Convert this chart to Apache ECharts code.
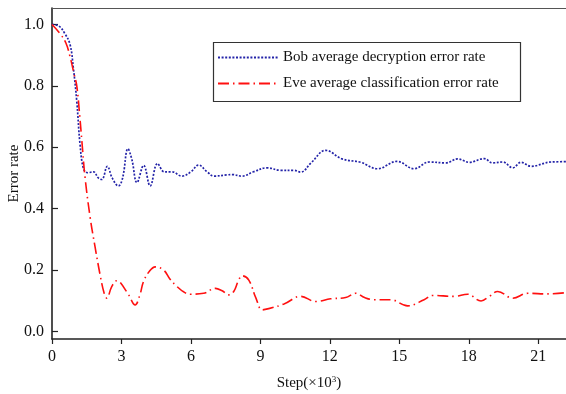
<!DOCTYPE html>
<html>
<head>
<meta charset="utf-8">
<script src="https://cdn.jsdelivr.net/npm/echarts@6/dist/echarts.min.js"></script>
<style>
html,body{margin:0;padding:0;background:#fff;}
#c{width:566px;height:394px;}
</style>
</head>
<body>
<div id="c"></div>
<script>
// Step (x10^3) and error rate pairs
const bobSeriesName = 'Bob average decryption error rate';
const eveSeriesName = 'Eve average classification error rate';
const yTickValues = [0, 0.2, 0.4, 0.6, 0.8, 1.0];
const xTickInterval = 3;

const bobData = [
  [0,1.0],[0.3,0.995],[0.56,0.97],[0.78,0.935],[0.92,0.86],[1.07,0.75],[1.21,0.61],
  [1.36,0.53],[1.53,0.517],[1.79,0.52],[2.0,0.5],[2.15,0.495],[2.39,0.538],[2.6,0.5],
  [2.87,0.474],[3.05,0.5],[3.28,0.595],[3.45,0.56],[3.67,0.485],[3.96,0.541],[4.24,0.474],
  [4.56,0.547],[4.85,0.52],[5.18,0.52],[5.61,0.506],[6.0,0.52],[6.33,0.542],[6.7,0.52],
  [7.0,0.506],[7.56,0.51],[7.78,0.511],[8.21,0.506],[8.7,0.52],[9.29,0.533],[9.87,0.525],
  [10.45,0.525],[10.74,0.519],[11.2,0.55],[11.82,0.59],[12.53,0.562],[13.33,0.551],
  [14.06,0.53],[14.9,0.554],[15.64,0.53],[16.29,0.552],[17.01,0.549],[17.52,0.562],
  [18.02,0.551],[18.67,0.563],[19.03,0.549],[19.47,0.552],[19.9,0.533],[20.26,0.551],
  [20.69,0.538],[21.56,0.552],[22.2,0.553]
];

const eveData = [
  [0,1.0],[0.35,0.97],[0.6,0.94],[0.78,0.895],[0.95,0.84],[1.07,0.8],[1.2,0.7],[1.29,0.62],
  [1.43,0.5],[1.65,0.37],[1.86,0.275],[2.08,0.183],[2.25,0.125],[2.37,0.108],[2.58,0.146],
  [2.8,0.165],[2.94,0.16],[3.3,0.12],[3.59,0.086],[3.8,0.12],[3.95,0.162],[4.2,0.195],
  [4.46,0.21],[4.82,0.2],[5.1,0.17],[5.4,0.146],[5.7,0.128],[5.97,0.121],[6.55,0.124],
  [7.06,0.14],[7.35,0.132],[7.64,0.119],[7.85,0.13],[8.05,0.165],[8.21,0.181],[8.5,0.167],
  [8.8,0.11],[9.08,0.07],[9.36,0.074],[10.02,0.089],[10.74,0.114],[11.39,0.097],[12.03,0.106],
  [12.68,0.11],[13.12,0.124],[13.5,0.11],[13.91,0.103],[14.63,0.103],[15.36,0.083],
  [16.07,0.103],[16.43,0.117],[17.37,0.114],[17.95,0.121],[18.53,0.099],[18.89,0.114],
  [19.25,0.13],[19.9,0.108],[20.55,0.124],[21.41,0.122],[22.2,0.126]
];

const FONT = '"Liberation Serif", "Times New Roman", serif';
const AXIS_COLOR = '#222';

const chart = echarts.init(document.getElementById('c'), null, {renderer: 'canvas'});
chart.setOption({
  animation: false,
  backgroundColor: '#fff',
  grid: {left: 52, right: 0, top: 8, bottom: 55, containLabel: false, outerBoundsMode: 'none'},
  legend: {
    orient: 'vertical',
    left: 217, top: 50,
    itemWidth: 60, itemHeight: 14, itemGap: 11,
    padding: 0,
    itemStyle: {opacity: 0},
    textStyle: {fontFamily: FONT, fontSize: 15, color: '#111'},
    data: [bobSeriesName, eveSeriesName]
  },
  graphic: [{
    type: 'rect', left: 211, top: 40,
    shape: {width: 307, height: 59},
    style: {fill: 'none', stroke: '#333', lineWidth: 1.2},
    z: 100
  }],
  xAxis: [{
    type: 'value', min: 0, max: 22.2, interval: xTickInterval,
    name: 'Step(×10{sup|3})',
    nameLocation: 'middle', nameGap: 36, nameMoveOverlap: false,
    nameTextStyle: {fontFamily: FONT, fontSize: 15, color: '#111',
      rich: {sup: {fontFamily: FONT, fontSize: 9, verticalAlign: 'top', padding: [0,0,8,0], color: '#111'}}},
    axisLine: {show: true, onZero: false, lineStyle: {color: AXIS_COLOR, width: 1.6}},
    axisTick: {show: true, inside: false, length: 5, lineStyle: {color: AXIS_COLOR, width: 1.2}},
    axisLabel: {fontFamily: FONT, fontSize: 16, color: '#111', margin: 10, showMaxLabel: false},
    splitLine: {show: false}
  }, {
    type: 'value', position: 'top', min: 0, max: 22.2,
    axisLine: {show: true, onZero: false, lineStyle: {color: '#555', width: 1.2}},
    axisTick: {show: false}, axisLabel: {show: false}, splitLine: {show: false}
  }],
  yAxis: {
    type: 'value', min: -0.025, max: 1.054,
    name: 'Error rate',
    nameLocation: 'middle', nameGap: 30, nameRotate: 90, nameMoveOverlap: false,
    nameTextStyle: {fontFamily: FONT, fontSize: 15, color: '#111'},
    axisLine: {show: true, onZero: false, lineStyle: {color: AXIS_COLOR, width: 1.6}},
    axisTick: {show: true, inside: true, length: 6, customValues: yTickValues,
      lineStyle: {color: AXIS_COLOR, width: 1.2}},
    axisLabel: {fontFamily: FONT, fontSize: 16, color: '#111', margin: 8,
      customValues: yTickValues, formatter: v => v.toFixed(1)},
    splitLine: {show: false}
  },
  series: [{
    name: bobSeriesName, type: 'line', data: bobData,
    smooth: 0.4, symbol: 'none',
    lineStyle: {color: '#2323a8', width: 1.7, type: [2, 1.6]},
    itemStyle: {color: '#2323a8'}
  }, {
    name: eveSeriesName, type: 'line', data: eveData,
    smooth: 0.4, symbol: 'none',
    lineStyle: {color: '#ff1010', width: 1.6, type: [11, 4, 1.5, 4]},
    itemStyle: {color: '#ff1010'}
  }]
});
</script>
</body>
</html>
